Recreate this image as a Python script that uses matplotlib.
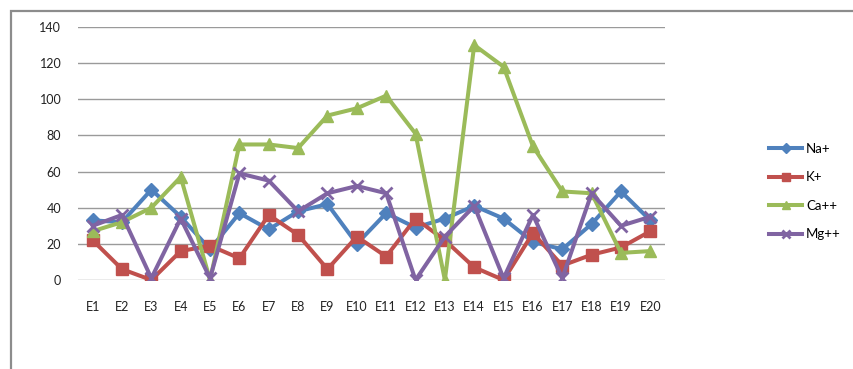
import matplotlib.pyplot as plt
from matplotlib.patches import Rectangle

plt.rcParams["font.family"] = ["Lato", "DejaVu Sans"]

# sampling sites and ion concentrations
sites = [f"E{i}" for i in range(1, 21)]
na = [33, 32, 50, 35, 17, 37, 28, 38, 42, 20, 37, 29, 34, 41, 34, 21, 17, 31, 49, 33]
k = [22, 6, 0, 16, 19, 12, 36, 25, 6, 24, 13, 34, 22, 7, 0, 26, 8, 14, 18, 27]
ca = [27, 32, 40, 57, 0, 75, 75, 73, 91, 95, 102, 81, 0, 130, 118, 74, 49, 48, 15, 16]
mg = [30, 36, 1, 34, 1, 59, 55, 38, 48, 52, 48, 0, 24, 41, 1, 36, 1, 48, 30, 35]

series = [
    ("Na+", na, "#4F81BD", "D", 7),
    ("K+", k, "#C0504D", "s", 8),
    ("Ca++", ca, "#9BBB59", "^", 8),
    ("Mg++", mg, "#8064A2", "x", 8),
]

fig = plt.figure(figsize=(8.54, 3.69), dpi=100)
ax = fig.add_axes([0.0913, 0.2412, 0.6874, 0.6856])

# chart area frame, running off the right and bottom edges
fig.patches.append(Rectangle((11 / 854, -0.1), 1.2, 1.1 - 11 / 369,
                             transform=fig.transFigure, fill=False,
                             edgecolor="#8c8c8c", linewidth=1.6))

x = range(len(sites))
for name, vals, color, marker, ms in series:
    ax.plot(x, vals, color=color, linewidth=2.9, marker=marker,
            markersize=ms, markeredgewidth=2 if marker == "x" else 1,
            markeredgecolor=color, label=name)

ax.set_xlim(-0.5, len(sites) - 0.5)
ax.set_ylim(0, 140)
ax.set_yticks(range(0, 141, 20))
ax.set_xticks(list(x))
ax.set_xticklabels(sites)
ax.yaxis.grid(True, color="#9a9a9a", linewidth=1)
ax.set_axisbelow(True)
for s in ax.spines.values():
    s.set_visible(False)
ax.tick_params(axis="both", length=0, labelsize=9, colors="#222222")
ax.tick_params(axis="y", pad=12)
ax.tick_params(axis="x", pad=15)

ax.legend(loc="center left", bbox_to_anchor=(1.157, 0.35), frameon=False,
          fontsize=9.5, handlelength=2.5, labelspacing=1.25, handletextpad=0.3,
          markerscale=0.75)

fig.savefig("out.png", dpi=100)
